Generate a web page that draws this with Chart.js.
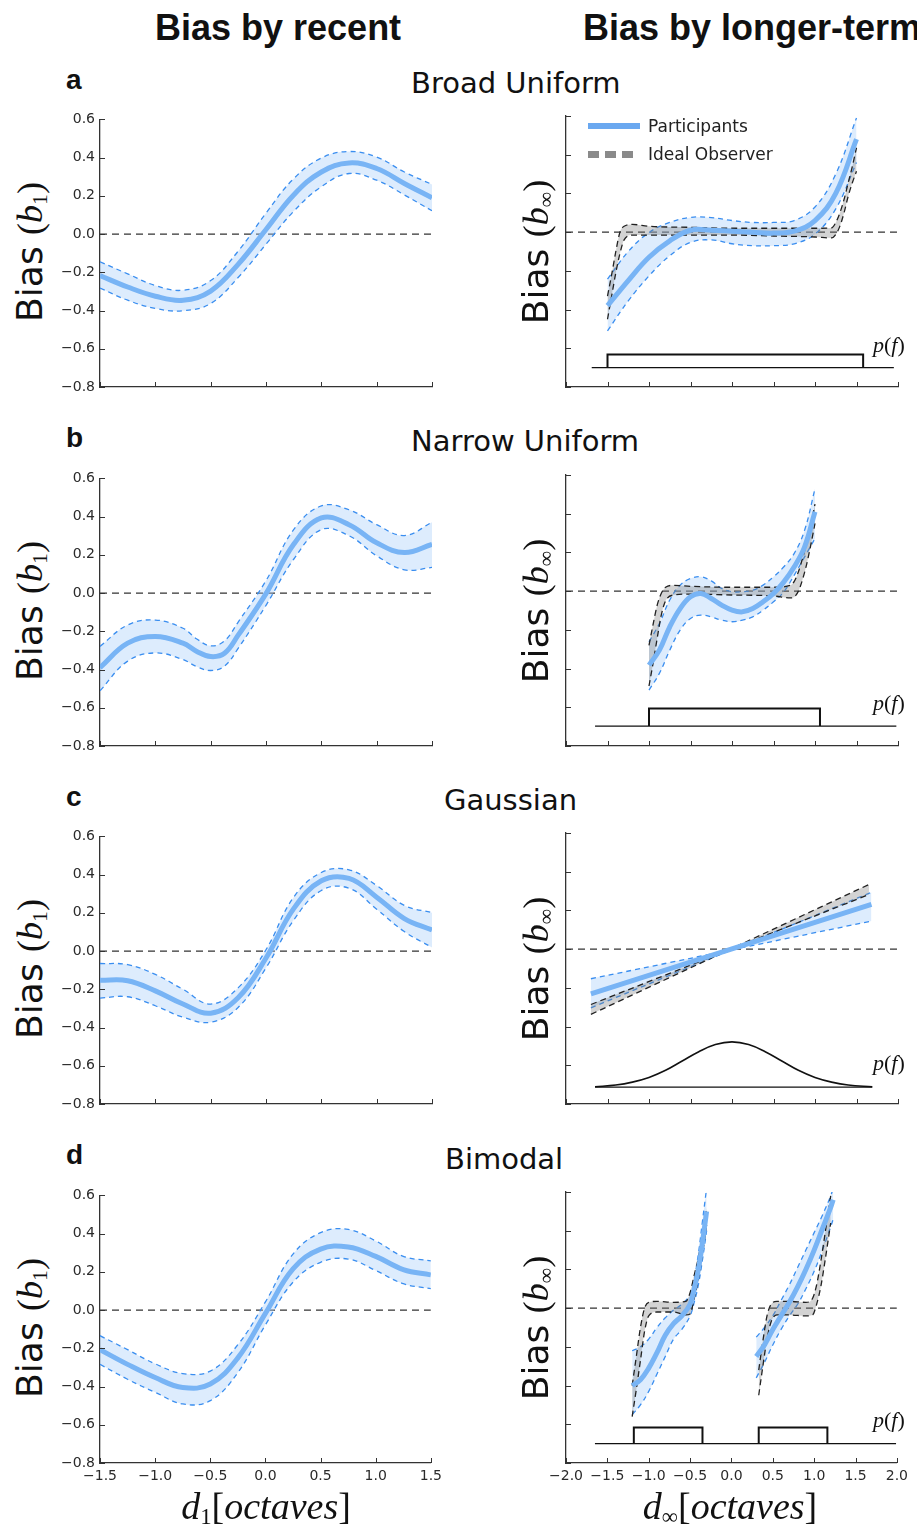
<!DOCTYPE html>
<html lang="en">
<head>
<meta charset="utf-8" />
<title>Bias by recent and longer-term history</title>
<script src="https://cdn.jsdelivr.net/npm/chart.js@4"></script>
<style>
  html, body { margin: 0; padding: 0; background: #fff; }
  body { width: 917px; height: 1530px; overflow: hidden; position: relative; font-family: "DejaVu Sans", sans-serif; color: #111; }
  canvas { position: absolute; }
  .t { position: absolute; white-space: nowrap; line-height: 1; transform: translateY(-50%); }
  .head { font-family: "Liberation Sans", Arial, sans-serif; font-weight: bold; font-size: 36px; }
  .letter { font-family: "Liberation Sans", Arial, sans-serif; font-weight: bold; font-size: 28px; }
  .sub { font-size: 29px; }
  .ylab { font-size: 36px; transform: translate(-50%, -50%) rotate(-90deg); }
  .xlab { font-size: 38px; transform: translate(-50%, -50%); }
  .m { font-family: "Liberation Serif", "DejaVu Serif", serif; }
  .m i { font-style: italic; }
  .m sub { font-size: 60%; vertical-align: -0.25em; }
  .pf { font-size: 22px; }
  .leg { font-size: 17px; color: #222; }
</style>
</head>
<body>

<script>
// recent-history bias, x in octaves
const xRecent = [-1.5, -1.25, -1.0, -0.75, -0.5, -0.25, 0, 0.25, 0.5, 0.75, 1.0, 1.25, 1.5];

const aRecentMean  = [-0.217, -0.277, -0.325, -0.346, -0.298, -0.157, 0.024, 0.205, 0.325, 0.372, 0.343, 0.265, 0.19];
const aRecentUpper = [-0.145, -0.208, -0.269, -0.294, -0.243, -0.088, 0.11, 0.29, 0.398, 0.432, 0.403, 0.325, 0.26];
const aRecentLower = [-0.282, -0.346, -0.389, -0.401, -0.363, -0.226, -0.053, 0.119, 0.248, 0.317, 0.282, 0.205, 0.122];

// narrow uniform has a sharper dip near -0.5, so it is read more densely there
const xRecentB = [-1.5, -1.25, -1.0, -0.75, -0.625, -0.5, -0.375, -0.25, 0, 0.25, 0.5, 0.75, 1.0, 1.25, 1.5];
const bRecentMean  = [-0.39, -0.262, -0.227, -0.262, -0.305, -0.332, -0.315, -0.219, -0.003, 0.255, 0.393, 0.358, 0.263, 0.212, 0.255];
const bRecentUpper = [-0.279, -0.167, -0.141, -0.184, -0.24, -0.276, -0.25, -0.15, 0.065, 0.332, 0.456, 0.436, 0.358, 0.301, 0.37];
const bRecentLower = [-0.511, -0.356, -0.313, -0.348, -0.385, -0.405, -0.382, -0.288, -0.064, 0.177, 0.332, 0.3, 0.195, 0.122, 0.134];

const cRecentMean  = [-0.153, -0.155, -0.208, -0.277, -0.325, -0.243, -0.036, 0.222, 0.368, 0.38, 0.282, 0.17, 0.11];
const cRecentUpper = [-0.065, -0.071, -0.122, -0.2, -0.277, -0.191, 0.007, 0.282, 0.411, 0.425, 0.343, 0.239, 0.201];
const cRecentLower = [-0.246, -0.239, -0.286, -0.346, -0.372, -0.294, -0.088, 0.162, 0.317, 0.329, 0.219, 0.102, 0.019];

const dRecentMean  = [-0.207, -0.284, -0.353, -0.405, -0.387, -0.25, -0.017, 0.215, 0.319, 0.33, 0.281, 0.212, 0.184];
const dRecentUpper = [-0.134, -0.207, -0.281, -0.332, -0.319, -0.181, 0.043, 0.293, 0.405, 0.422, 0.362, 0.281, 0.258];
const dRecentLower = [-0.284, -0.362, -0.43, -0.491, -0.474, -0.327, -0.077, 0.146, 0.25, 0.267, 0.207, 0.138, 0.112];

// longer-term bias: participants
const xLongA = [-1.5, -1.25, -1.0, -0.75, -0.5, -0.25, 0, 0.25, 0.5, 0.75, 1.0, 1.25, 1.5];
const aLongMean  = [-0.38, -0.25, -0.13, -0.045, 0.01, 0.01, 0.005, 0, -0.005, 0.005, 0.06, 0.2, 0.48];
const aLongUpper = [-0.243, -0.1, -0.002, 0.05, 0.076, 0.075, 0.06, 0.05, 0.05, 0.06, 0.13, 0.3, 0.59];
const aLongLower = [-0.51, -0.355, -0.226, -0.122, -0.053, -0.04, -0.06, -0.07, -0.07, -0.06, -0.01, 0.12, 0.36];

const xLongB = [-1.0, -0.875, -0.75, -0.625, -0.5, -0.375, -0.25, -0.125, 0, 0.125, 0.25, 0.375, 0.5, 0.625, 0.75, 0.875, 1.0];
const bLongMean  = [-0.382, -0.305, -0.184, -0.09, -0.029, -0.012, -0.038, -0.072, -0.098, -0.107, -0.09, -0.055, -0.012, 0.048, 0.126, 0.229, 0.41];
const bLongUpper = [-0.262, -0.167, -0.046, 0.031, 0.065, 0.074, 0.053, 0.014, -0.003, -0.003, 0.005, 0.031, 0.074, 0.126, 0.195, 0.315, 0.53];
const bLongLower = [-0.511, -0.425, -0.305, -0.201, -0.141, -0.124, -0.133, -0.15, -0.158, -0.15, -0.133, -0.098, -0.055, -0.003, 0.083, 0.177, 0.272];

const xLongC = [-1.7, 1.68];
const cLongMean    = [-0.231, 0.231];
const cLongSteep   = [-0.303, 0.294];
const cLongShallow = [-0.153, 0.145];

const xLongD1 = [-1.2, -1.1, -1.0, -0.9, -0.8, -0.7, -0.6, -0.5, -0.45, -0.4, -0.35, -0.3];
const dLongMean1  = [-0.40, -0.37, -0.31, -0.23, -0.14, -0.08, -0.04, 0.02, 0.10, 0.2, 0.34, 0.5];
const dLongUpper1 = [-0.22, -0.2, -0.16, -0.1, -0.05, -0.01, 0.02, 0.07, 0.15, 0.28, 0.45, 0.62];
const dLongLower1 = [-0.55, -0.5, -0.43, -0.34, -0.25, -0.16, -0.11, -0.04, 0.03, 0.12, 0.25, 0.4];
const xLongD2 = [0.3, 0.4, 0.5, 0.6, 0.7, 0.8, 0.9, 1.0, 1.1, 1.2, 1.23];
const dLongMean2  = [-0.25, -0.19, -0.11, -0.04, 0.03, 0.11, 0.2, 0.3, 0.41, 0.52, 0.56];
const dLongUpper2 = [-0.15, -0.1, -0.04, 0.04, 0.12, 0.21, 0.3, 0.39, 0.48, 0.58, 0.62];
const dLongLower2 = [-0.36, -0.28, -0.19, -0.11, -0.04, 0.02, 0.1, 0.19, 0.3, 0.42, 0.46];

// longer-term bias: ideal observer band
const xIdealA = [-1.5, -1.45, -1.4, -1.35, -1.3, -1.2, -1.0, -0.5, 0, 0.5, 1.0, 1.2, 1.25, 1.3, 1.35, 1.4, 1.45, 1.5];
const aIdealUpper = [-0.33, -0.22, -0.1, 0.0, 0.03, 0.04, 0.03, 0.025, 0.02, 0.02, 0.02, 0.022, 0.05, 0.1, 0.169, 0.255, 0.34, 0.436];
const aIdealLower = [-0.45, -0.33, -0.21, -0.11, -0.04, -0.015, -0.015, -0.015, -0.015, -0.02, -0.025, -0.03, -0.012, 0.031, 0.1, 0.186, 0.255, 0.315];

const xIdealB = [-1.0, -0.95, -0.9, -0.85, -0.8, -0.7, -0.5, 0, 0.5, 0.7, 0.75, 0.8, 0.85, 0.9, 0.95, 1.0];
const bIdealUpper = [-0.28, -0.17, -0.07, -0.01, 0.02, 0.03, 0.025, 0.02, 0.02, 0.03, 0.05, 0.1, 0.17, 0.25, 0.34, 0.45];
const bIdealLower = [-0.49, -0.37, -0.24, -0.12, -0.05, -0.02, -0.015, -0.02, -0.025, -0.035, -0.03, 0.0, 0.06, 0.14, 0.24, 0.35];

const xIdealC = [-1.7, 1.65];
const cIdealSteep   = [-0.337, 0.334];
const cIdealShallow = [-0.286, 0.282];

const xIdealD1 = [-1.2, -1.15, -1.1, -1.05, -1.0, -0.9, -0.7, -0.55, -0.5, -0.45, -0.4, -0.35, -0.3];
const dIdealUpper1 = [-0.40, -0.25, -0.1, 0.0, 0.03, 0.035, 0.03, 0.035, 0.08, 0.17, 0.26, 0.38, 0.52];
const dIdealLower1 = [-0.56, -0.42, -0.27, -0.12, -0.04, -0.02, -0.02, -0.035, -0.03, 0.05, 0.15, 0.28, 0.43];
const xIdealD2 = [0.33, 0.38, 0.43, 0.48, 0.55, 0.7, 0.9, 0.98, 1.03, 1.08, 1.13, 1.2];
const dIdealUpper2 = [-0.32, -0.17, -0.04, 0.02, 0.035, 0.035, 0.03, 0.05, 0.12, 0.24, 0.38, 0.58];
const dIdealLower2 = [-0.45, -0.3, -0.16, -0.07, -0.035, -0.035, -0.04, -0.035, 0.02, 0.11, 0.24, 0.44];

// stimulus distributions p(f): thin baseline plus boxes / curve on top
const aBaseX = [-1.69, 1.95];
const aBaseY = [-0.70, -0.70];
const aBoxX = [-1.5, -1.5, 1.58, 1.58];
const aBoxY = [-0.70, -0.632, -0.632, -0.70];
const bBaseX = [-1.65, 1.98];
const bBaseY = [-0.697, -0.697];
const bBoxX = [-1.0, -1.0, 1.06, 1.06];
const bBoxY = [-0.697, -0.606, -0.606, -0.697];
const cBaseX = [-1.65, 1.69];
const cBaseY = [-0.713, -0.713];
const cPfX = [-1.65, -1.4, -1.2, -1.0, -0.8, -0.6, -0.4, -0.2, 0, 0.2, 0.4, 0.6, 0.8, 1.0, 1.2, 1.4, 1.69];
const cPfY = [-0.711, -0.702, -0.687, -0.663, -0.626, -0.578, -0.53, -0.493, -0.479, -0.493, -0.53, -0.578, -0.626, -0.663, -0.687, -0.702, -0.711];
const dBaseX = [-1.65, 1.99];
const dBaseY = [-0.70, -0.70];
const dBox1X = [-1.18, -1.18, -0.35, -0.35];
const dBox2X = [0.33, 0.33, 1.16, 1.16];
const dBoxY = [-0.70, -0.616, -0.616, -0.70];

const yRange = [-0.8, 0.6];
const xRangeRecent = [-1.5, 1.5];
const xRangeLong = [-2.0, 2.0];

const BLUE = '#78b4f5';
const BLUE_DASH = '#3a8ef0';
const BLUE_FILL = 'rgba(165, 205, 250, 0.38)';
const GREY_FILL = 'rgba(120, 120, 120, 0.33)';

const pts = (xs, ys) => xs.map((x, i) => ({ x: x, y: ys[i] }));
const fmt = v => {
    const s = (Math.abs(v) < 1e-9 ? 0 : v).toFixed(1);
    return s.replace('-', '\u2212');
};

// matplotlib style: ticks pointing into the axes
const innerTicks = {
    id: 'innerTicks',
    afterDraw(chart) {
        const { ctx, chartArea: a, scales: { x, y } } = chart;
        ctx.save();
        ctx.strokeStyle = '#333';
        ctx.lineWidth = 1;
        ctx.beginPath();
        x.ticks.forEach(t => {
            const px = Math.round(x.getPixelForValue(t.value)) + 0.5;
            ctx.moveTo(px, a.bottom);
            ctx.lineTo(px, a.bottom - 5);
        });
        y.ticks.forEach(t => {
            const py = Math.round(y.getPixelForValue(t.value)) + 0.5;
            ctx.moveTo(a.left, py);
            ctx.lineTo(a.left + 5, py);
        });
        ctx.stroke();
        ctx.restore();
    }
};

// ideal observer bands have sharp shoulders, so they use monotone curves
function addBand(list, xs, up, lo, color, fillColor, dash, order, mono) {
    const base = {
        borderColor: color, borderWidth: 1.3, borderDash: dash,
        tension: 0.4, pointRadius: 0, order: order
    };
    if (mono) base.cubicInterpolationMode = 'monotone';
    list.push(Object.assign({ data: pts(xs, lo), fill: false }, base));
    const idx = list.length - 1;
    list.push(Object.assign({ data: pts(xs, up), fill: idx, backgroundColor: fillColor }, base));
}

function addMean(list, xs, ys) {
    list.push({ data: pts(xs, ys), borderColor: BLUE, borderWidth: 5, tension: 0.4, pointRadius: 0, fill: false, order: 1 });
}

function addZero(list, range) {
    list.push({ data: pts(range, [0, 0]), borderColor: '#333', borderWidth: 1.3, borderDash: [7, 5], pointRadius: 0, fill: false, order: 8 });
}

function addPf(list, xs, ys, width, smooth) {
    list.push({ data: pts(xs, ys), borderColor: '#111', borderWidth: width, tension: smooth ? 0.4 : 0, pointRadius: 0, fill: false, order: 0 });
}

function panel(left, top, range, showX, showY, datasets) {
    const c = document.createElement('canvas');
    c.width = 392;
    c.height = 311;
    c.style.left = left + 'px';
    c.style.top = top + 'px';
    document.body.appendChild(c);
    const tickFont = { family: 'DejaVu Sans', size: 14 };
    new Chart(c, {
        type: 'line',
        data: { datasets: datasets },
        options: {
            responsive: false,
            animation: false,
            devicePixelRatio: 1,
            layout: { padding: { top: 10, right: 15, bottom: 0, left: 0 } },
            plugins: { legend: { display: false }, tooltip: { enabled: false } },
            scales: {
                x: {
                    type: 'linear', min: range[0], max: range[1],
                    grid: { display: false, drawTicks: false },
                    border: { color: '#333', width: 1.3 },
                    ticks: { display: showX, stepSize: 0.5, padding: 5, color: '#2a2a2a', font: tickFont, callback: fmt, maxRotation: 0, autoSkip: false },
                    afterFit: s => { s.height = 30; }
                },
                y: {
                    type: 'linear', min: yRange[0], max: yRange[1],
                    grid: { display: false, drawTicks: false },
                    border: { color: '#333', width: 1.3 },
                    ticks: { display: showY, stepSize: 0.2, padding: 5, color: '#2a2a2a', font: tickFont, callback: fmt, autoSkip: false },
                    afterFit: s => { s.width = 45; }
                }
            }
        },
        plugins: [innerTicks]
    });
}

const rows = [106, 465, 823, 1182];

// left column
[[xRecent, aRecentMean, aRecentUpper, aRecentLower],
 [xRecentB, bRecentMean, bRecentUpper, bRecentLower],
 [xRecent, cRecentMean, cRecentUpper, cRecentLower],
 [xRecent, dRecentMean, dRecentUpper, dRecentLower]].forEach((s, i) => {
    const ds = [];
    addZero(ds, xRangeRecent);
    addBand(ds, s[0], s[2], s[3], BLUE_DASH, BLUE_FILL, [5, 4], 6);
    addMean(ds, s[0], s[1]);
    panel(55, rows[i], xRangeRecent, i === 3, true, ds);
});

// right column
let ds = [];
addZero(ds, xRangeLong);
addBand(ds, xLongA, aLongUpper, aLongLower, BLUE_DASH, BLUE_FILL, [5, 4], 6);
addBand(ds, xIdealA, aIdealUpper, aIdealLower, '#222', GREY_FILL, [6, 4], 5, true);
addMean(ds, xLongA, aLongMean);
addPf(ds, aBaseX, aBaseY, 1.2, false);
addPf(ds, aBoxX, aBoxY, 2, false);
panel(521, rows[0], xRangeLong, false, false, ds);

ds = [];
addZero(ds, xRangeLong);
addBand(ds, xLongB, bLongUpper, bLongLower, BLUE_DASH, BLUE_FILL, [5, 4], 6);
addBand(ds, xIdealB, bIdealUpper, bIdealLower, '#222', GREY_FILL, [6, 4], 5, true);
addMean(ds, xLongB, bLongMean);
addPf(ds, bBaseX, bBaseY, 1.2, false);
addPf(ds, bBoxX, bBoxY, 2, false);
panel(521, rows[1], xRangeLong, false, false, ds);

ds = [];
addZero(ds, xRangeLong);
addBand(ds, xLongC, cLongSteep, cLongShallow, BLUE_DASH, BLUE_FILL, [5, 4], 6);
addBand(ds, xIdealC, cIdealSteep, cIdealShallow, '#222', GREY_FILL, [6, 4], 5);
addMean(ds, xLongC, cLongMean);
addPf(ds, cBaseX, cBaseY, 1.2, false);
addPf(ds, cPfX, cPfY, 1.6, true);
panel(521, rows[2], xRangeLong, false, false, ds);

ds = [];
addZero(ds, xRangeLong);
addBand(ds, xLongD1, dLongUpper1, dLongLower1, BLUE_DASH, BLUE_FILL, [5, 4], 6);
addBand(ds, xLongD2, dLongUpper2, dLongLower2, BLUE_DASH, BLUE_FILL, [5, 4], 6);
addBand(ds, xIdealD1, dIdealUpper1, dIdealLower1, '#222', GREY_FILL, [6, 4], 5, true);
addBand(ds, xIdealD2, dIdealUpper2, dIdealLower2, '#222', GREY_FILL, [6, 4], 5, true);
addMean(ds, xLongD1, dLongMean1);
addMean(ds, xLongD2, dLongMean2);
addPf(ds, dBaseX, dBaseY, 1.2, false);
addPf(ds, dBox1X, dBoxY, 2, false);
addPf(ds, dBox2X, dBoxY, 2, false);
panel(521, rows[3], xRangeLong, true, false, ds);
</script>

<div class="t head" style="left:155px; top:28px;">Bias by recent</div>
<div class="t head" style="left:583px; top:28px;">Bias by longer-term</div>

<div class="t letter" style="left:66px; top:80px;">a</div>
<div class="t sub" style="left:411px; top:83px;">Broad Uniform</div>
<div class="t letter" style="left:66px; top:438px;">b</div>
<div class="t sub" style="left:411px; top:441px;">Narrow Uniform</div>
<div class="t letter" style="left:66px; top:797px;">c</div>
<div class="t sub" style="left:444px; top:800px;">Gaussian</div>
<div class="t letter" style="left:66px; top:1155px;">d</div>
<div class="t sub" style="left:445px; top:1159px;">Bimodal</div>

<div class="t ylab" style="left:32px; top:252px;">Bias <span class="m">(<i>b</i><sub>1</sub>)</span></div>
<div class="t ylab" style="left:32px; top:611px;">Bias <span class="m">(<i>b</i><sub>1</sub>)</span></div>
<div class="t ylab" style="left:32px; top:969px;">Bias <span class="m">(<i>b</i><sub>1</sub>)</span></div>
<div class="t ylab" style="left:32px; top:1328px;">Bias <span class="m">(<i>b</i><sub>1</sub>)</span></div>
<div class="t ylab" style="left:538px; top:252px;">Bias <span class="m">(<i>b</i><sub>∞</sub>)</span></div>
<div class="t ylab" style="left:538px; top:611px;">Bias <span class="m">(<i>b</i><sub>∞</sub>)</span></div>
<div class="t ylab" style="left:538px; top:969px;">Bias <span class="m">(<i>b</i><sub>∞</sub>)</span></div>
<div class="t ylab" style="left:538px; top:1328px;">Bias <span class="m">(<i>b</i><sub>∞</sub>)</span></div>

<div class="t m pf" style="left:873px; top:345px;"><i>p</i>(<i>f</i>)</div>
<div class="t m pf" style="left:873px; top:703px;"><i>p</i>(<i>f</i>)</div>
<div class="t m pf" style="left:873px; top:1063px;"><i>p</i>(<i>f</i>)</div>
<div class="t m pf" style="left:873px; top:1420px;"><i>p</i>(<i>f</i>)</div>

<div class="t m xlab" style="left:266px; top:1508px;"><i>d</i><sub>1</sub>[<i>octaves</i>]</div>
<div class="t m xlab" style="left:730px; top:1508px;"><i>d</i><sub>∞</sub>[<i>octaves</i>]</div>

<div style="position:absolute; left:588px; top:123px; width:52px; height:6px; background:#6aa8f0;"></div>
<div style="position:absolute; left:588px; top:151px; width:11px; height:7px; background:#8a8a8a;"></div>
<div style="position:absolute; left:605px; top:151px; width:11px; height:7px; background:#8a8a8a;"></div>
<div style="position:absolute; left:622px; top:151px; width:11px; height:7px; background:#8a8a8a;"></div>
<div class="t leg" style="left:648px; top:126px;">Participants</div>
<div class="t leg" style="left:648px; top:154px;">Ideal Observer</div>

</body>
</html>
